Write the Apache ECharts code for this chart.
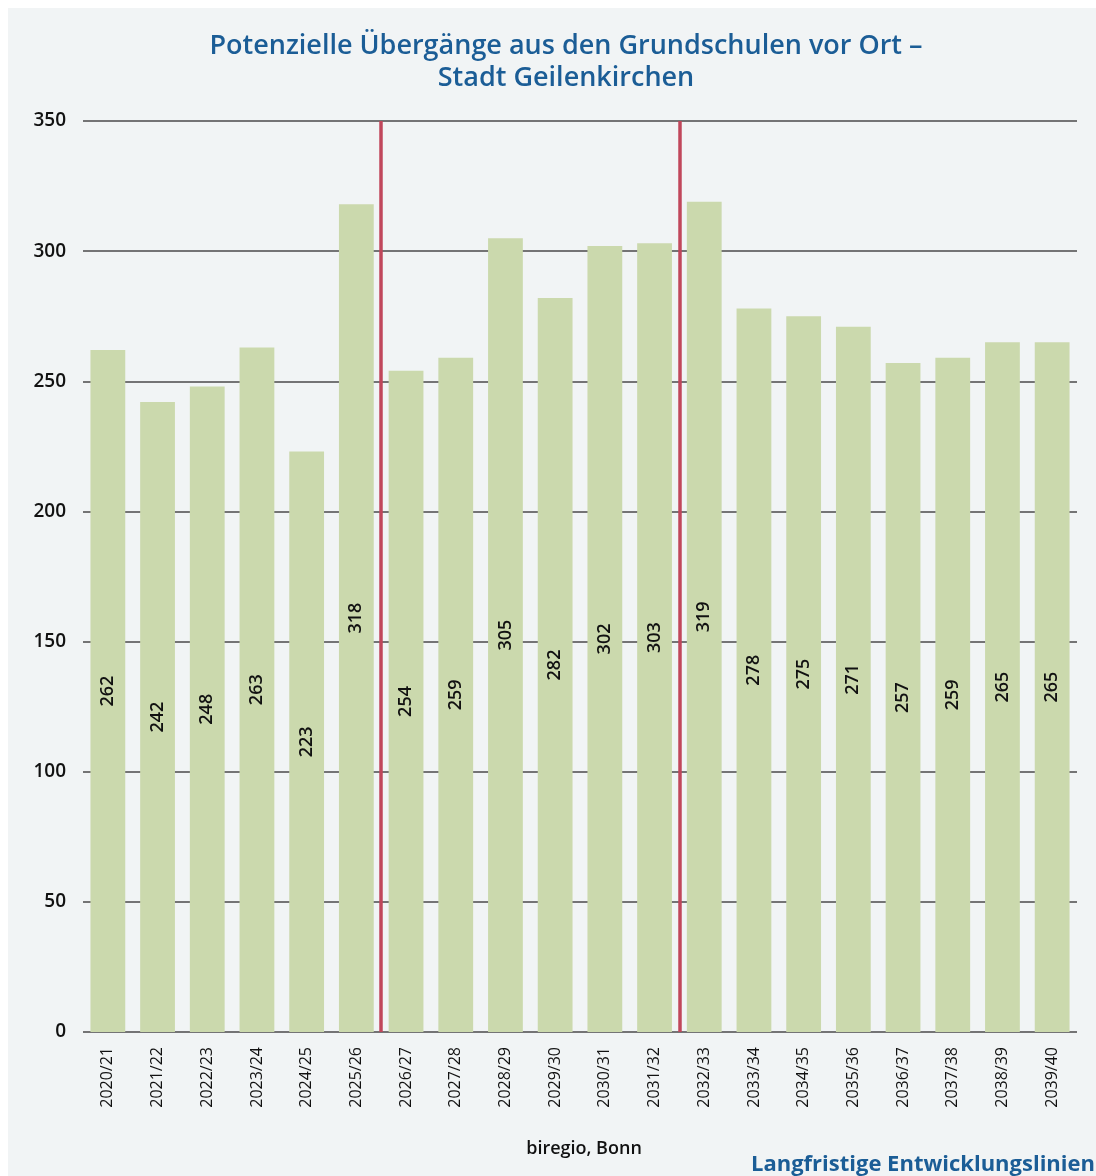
<!DOCTYPE html>
<html>
<head>
<meta charset="utf-8">
<script src="https://cdn.jsdelivr.net/npm/echarts@6/dist/echarts.min.js"></script>
<style>
html,body{margin:0;padding:0;background:#ffffff;}
#bg{position:absolute;left:8px;top:8px;right:0;bottom:0;background:#f1f4f5;}
#chart{position:absolute;left:0;top:0;width:1096px;height:1176px;}
</style>
</head>
<body>
<div id="bg"></div>
<div id="chart"></div>
<script>
const titleText = 'Potenzielle Übergänge aus den Grundschulen vor Ort –\nStadt Geilenkirchen';
const sourceText = 'biregio, Bonn';
const footerText = 'Langfristige Entwicklungslinien';
const categories = ['2020/21','2021/22','2022/23','2023/24','2024/25','2025/26','2026/27','2027/28','2028/29','2029/30','2030/31','2031/32','2032/33','2033/34','2034/35','2035/36','2036/37','2037/38','2038/39','2039/40'];
const values = [262,242,248,263,223,318,254,259,305,282,302,303,319,278,275,271,257,259,265,265];
const breakPositions = [6, 12]; // boundaries between categories (index of first category after break)
const yMin = 0, yMax = 350, yInterval = 50;

const chart = echarts.init(document.getElementById('chart'), null, {renderer:'canvas'});
const font = '"Open Sans", "Noto Sans", sans-serif';
chart.setOption({
  backgroundColor: 'transparent',
  animation: false,
  title: [{
    text: titleText,
    left: 561, top: 25, textAlign: 'center',
    textStyle: {color:'#1b5d96', fontSize: 27, fontWeight: 600, fontFamily: font, lineHeight: 32}
  },{
    text: sourceText, left: 579, top: 1135, textAlign: 'center',
    textStyle: {color:'#111', fontSize: 18, fontWeight: 600, fontFamily: font}
  },{
    text: footerText, right: -4, top: 1149,
    textStyle: {color:'#1b5d96', fontSize: 22, fontWeight:'bold', fontFamily: font}
  }],
  grid: {left: 83, right: 19, top: 121, bottom: 144, containLabel: false},
  xAxis: [{
    type: 'category', data: categories,
    axisLine: {show:false}, axisTick: {show:false},
    axisLabel: {rotate: 90, margin: 15, color:'#111', fontSize: 16, fontWeight: 500, fontFamily: font, interval: 0}
  },{
    type: 'value', min: 0, max: categories.length, show: false
  }],
  yAxis: {
    type: 'value', min: yMin, max: yMax, interval: yInterval,
    axisLine: {show:false}, axisTick: {show:false},
    axisLabel: {color:'#111', fontSize: 19, fontWeight: 600, fontFamily: font, margin: 17},
    splitLine: {lineStyle: {color:'#4a4a4a', width: 1.5}}
  },
  series: [{
    type: 'bar', data: values, xAxisIndex: 0, barWidth: '70%',
    itemStyle: {color:'#cbd9ad'},
    label: {show: true, position: 'inside', rotate: 90, color:'#111', fontSize: 18, fontWeight: 600, fontFamily: font}
  },{
    type: 'line', xAxisIndex: 1, data: [], silent: true,
    markLine: {
      symbol: 'none', silent: true, label: {show:false},
      lineStyle: {color:'#c0475b', width: 3.5, type:'solid'},
      data: breakPositions.map(p => ({xAxis: p}))
    }
  }]
});
</script>
</body>
</html>
